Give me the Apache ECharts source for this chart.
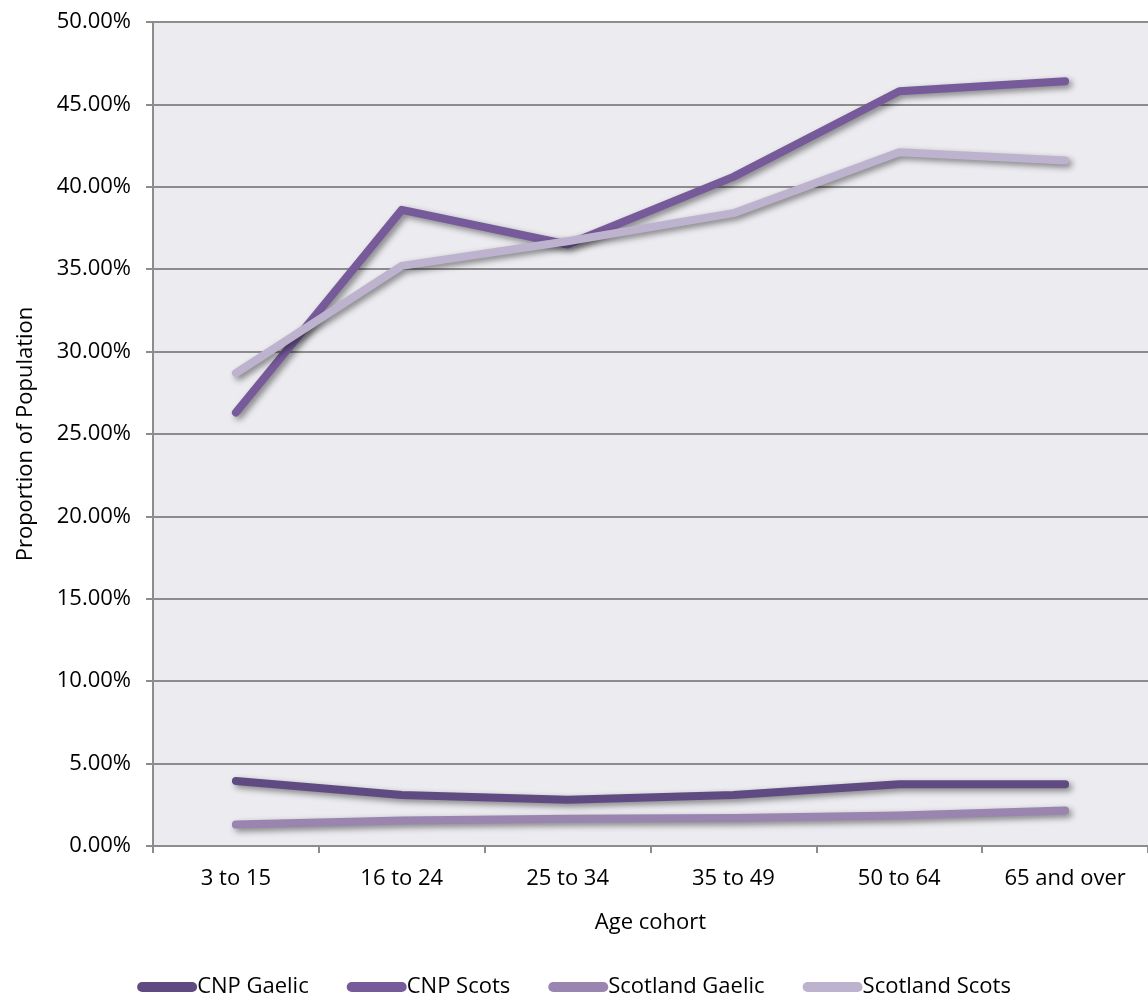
<!DOCTYPE html>
<html>
<head>
<meta charset="utf-8">
<script src="https://cdn.jsdelivr.net/npm/echarts@6/dist/echarts.min.js"></script>
<style>
html,body{margin:0;padding:0;background:#fff;}
#chart{width:1148px;height:1004px;}
</style>
</head>
<body>
<div id="chart"></div>
<script>
var categories = ['3 to 15', '16 to 24', '25 to 34', '35 to 49', '50 to 64', '65 and over'];
var cnpGaelic = [3.95, 3.1, 2.8, 3.1, 3.75, 3.75];
var cnpScots = [26.3, 38.6, 36.5, 40.6, 45.8, 46.4];
var scotlandGaelic = [1.3, 1.55, 1.65, 1.7, 1.85, 2.15];
var scotlandScots = [28.7, 35.2, 36.7, 38.4, 42.1, 41.6];
var seriesNames = ['CNP Gaelic', 'CNP Scots', 'Scotland Gaelic', 'Scotland Scots'];
var seriesColors = ['#5f4a82', '#765a9a', '#9985b0', '#bdb3cf'];

var FONT = '"Open Sans", "DejaVu Sans", sans-serif';
var chart = echarts.init(document.getElementById('chart'), null, {renderer: 'canvas'});

function mkSeries(name, data, color) {
  return {
    name: name,
    type: 'line',
    data: data,
    symbol: 'none',
    smooth: false,
    itemStyle: {color: color},
    lineStyle: {
      color: color, width: 8, cap: 'round', join: 'round',
      shadowColor: 'rgba(0,0,0,0.45)', shadowBlur: 6, shadowOffsetX: 3, shadowOffsetY: 3
    },
    emphasis: {disabled: true}
  };
}

chart.setOption({
  animation: false,
  backgroundColor: '#ffffff',
  color: seriesColors,
  grid: {
    left: 153, top: 22, right: -7, bottom: 158,
    show: true, backgroundColor: '#ecebf0', borderWidth: 0
  },
  legend: {
    data: seriesNames,
    left: 'center',
    top: 971,
    itemWidth: 60,
    itemHeight: 11,
    itemGap: 38,
    icon: 'path://M5,0 L55,0 A5,5 0 0 1 55,10 L5,10 A5,5 0 0 1 5,0 Z',
    textStyle: {fontFamily: FONT, fontSize: 22, color: '#000', padding: [0, 0, 0, -5]}
  },
  xAxis: {
    type: 'category',
    data: categories,
    boundaryGap: true,
    name: 'Age cohort',
    nameLocation: 'middle',
    nameGap: 66,
    nameTextStyle: {fontFamily: FONT, fontSize: 22, color: '#000'},
    axisLine: {show: true, lineStyle: {color: '#8c8c8c', width: 2}},
    axisTick: {show: true, interval: 0, length: 7, lineStyle: {color: '#8c8c8c', width: 2}},
    axisLabel: {fontFamily: FONT, fontSize: 22, color: '#000', margin: 22, interval: 0},
    splitLine: {show: false}
  },
  yAxis: {
    type: 'value',
    min: 0, max: 50, interval: 5,
    name: 'Proportion of Population',
    nameLocation: 'middle',
    nameGap: 116,
    nameRotate: 90,
    nameTextStyle: {fontFamily: FONT, fontSize: 22, color: '#000'},
    axisLine: {show: true, lineStyle: {color: '#8c8c8c', width: 2}},
    axisTick: {show: true, length: 7, lineStyle: {color: '#8c8c8c', width: 2}},
    axisLabel: {fontFamily: FONT, fontSize: 22, color: '#000', margin: 22,
      formatter: function (v) { return v.toFixed(2) + '%'; }},
    splitLine: {show: true, lineStyle: {color: '#8c8c8c', width: 2}}
  },
  series: [
    mkSeries(seriesNames[0], cnpGaelic, seriesColors[0]),
    mkSeries(seriesNames[1], cnpScots, seriesColors[1]),
    mkSeries(seriesNames[2], scotlandGaelic, seriesColors[2]),
    mkSeries(seriesNames[3], scotlandScots, seriesColors[3])
  ]
});
</script>
</body>
</html>
